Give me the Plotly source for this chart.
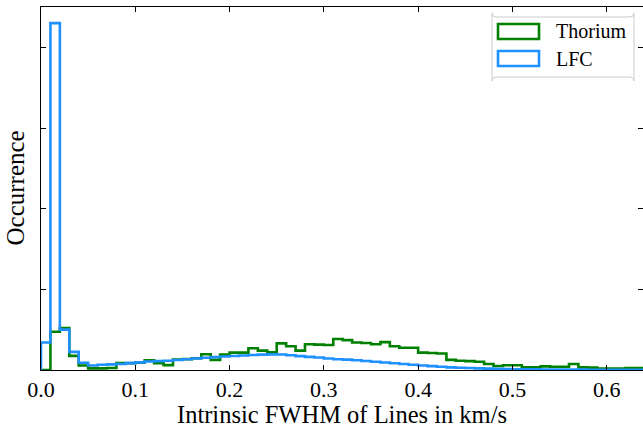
import plotly.graph_objects as go

# ---- data (histograms, bin width 0.01 starting at 0) ----
bin_width = 0.01
n_bins = 64
thorium = [0, 47.5, 52, 17.5, 5.5, 2, 2, 2.5, 8.5, 8.5,
           9, 12, 8.5, 6, 13, 13.5, 14.5, 19.5, 12.5, 19,
           21.5, 21.5, 27, 24, 22, 33, 29.5, 24, 32, 31.5,
           31, 38.5, 37, 34, 33.5, 32, 34.5, 29.5, 27.5, 27.5,
           21.5, 21, 20.5, 12.5, 11.5, 11, 10.3, 7.4, 5, 5.8,
           5.8, 3.3, 3.3, 4.5, 4, 4, 7.4, 3.3, 3, 1.7,
           1.7, 1.7, 2.5, 2.5]
lfc = [34, 430, 50, 22.5, 9, 5.5, 6.5, 7, 7.5, 8.5,
       9.5, 10.5, 11, 11.5, 12.4, 13.3, 14.3, 15.2, 16, 16.7,
       17.3, 17.9, 18.6, 19.1, 19.4, 19.2, 18.2, 17.2, 16.3, 15.5,
       14.2, 13.3, 12.8, 12, 11.2, 10.3, 9.3, 8.4, 7.5, 6.6,
       5.6, 4.8, 4, 3.3, 2.8, 2.4, 2, 1.7, 1.4, 1.2,
       1.0, 0.9, 0.8, 0.7, 0.6, 0.6, 0.5, 0.5, 0.4, 0.4,
       0.4, 0.3, 0.3, 0.3]
series_names = ["Thorium", "LFC"]
series_colors = ["green", "#1E90FF"]
x_ticks = [0.0, 0.1, 0.2, 0.3, 0.4, 0.5, 0.6]
y_ticks = [100, 200, 300, 400]

edges = [round(i * bin_width, 2) for i in range(n_bins + 1)]


def step_xy(vals):
    xs = [0.0] + edges
    ys = [0] + list(vals) + [0]
    return xs, ys


fig = go.Figure()
for name, vals, col in zip(series_names, [thorium, lfc], series_colors):
    xs, ys = step_xy(vals)
    fig.add_trace(go.Scatter(x=xs, y=ys, mode="lines", name=name,
                             line=dict(color=col, width=2.6, shape="hv"),
                             showlegend=False))

FONT = "Liberation Serif"
W, H = 643, 428
L, R, T, B = 41, 0, 7, 58
pw, ph = W - L - R, H - T - B


def px(xp):
    return (xp - L) / pw


def py(yp):
    return (H - B - yp) / ph


# custom legend (box, swatches, labels)
shapes = []
x0, x1, y0, y1 = px(492), px(634), py(17), py(77)
r = 4 / pw
ry = 4 / ph
path = (f"M {x0+r},{y1} L {x1-r},{y1} Q {x1},{y1} {x1},{y1-ry} "
        f"L {x1},{y0+ry} Q {x1},{y0} {x1-r},{y0} L {x0+r},{y0} "
        f"Q {x0},{y0} {x0},{y0+ry} L {x0},{y1-ry} Q {x0},{y1} {x0+r},{y1} Z")
shapes.append(dict(type="path", xref="paper", yref="paper", path=path,
                   line=dict(color="#cccccc", width=1),
                   fillcolor="rgba(255,255,255,0.8)"))
annotations = []
for i, (name, col) in enumerate(zip(series_names, series_colors)):
    cy = 31.5 + i * 27
    shapes.append(dict(type="rect", xref="paper", yref="paper",
                       x0=px(498), x1=px(539), y0=py(cy + 7.5), y1=py(cy - 7.5),
                       line=dict(color=col, width=2.6), fillcolor="white"))
    annotations.append(dict(xref="paper", yref="paper", x=px(554), y=py(cy),
                            text=name, showarrow=False, xanchor="left",
                            yanchor="middle",
                            font=dict(family=FONT, size=20, color="black")))

annotations.append(dict(xref="paper", yref="paper", x=px(15), y=0.5,
                        text="Occurrence", textangle=-90, showarrow=False,
                        xanchor="center", yanchor="middle",
                        font=dict(family=FONT, size=25, color="black")))

fig.update_layout(
    width=W, height=H,
    margin=dict(l=L, r=R, t=T, b=B),
    plot_bgcolor="white", paper_bgcolor="white",
    shapes=shapes, annotations=annotations,
    showlegend=False,
    font=dict(family=FONT, color="black"),
)
fig.update_xaxes(range=[0, 0.6385], tickvals=x_ticks, tickformat=".1f",
                 ticks="inside", ticklen=5, tickwidth=1, tickcolor="black",
                 showline=True, linecolor="black", linewidth=1, mirror="ticks",
                 showgrid=False, zeroline=False,
                 tickfont=dict(family=FONT, size=22, color="black"),
                 title=dict(text="Intrinsic FWHM of Lines in km/s",
                            font=dict(family=FONT, size=24.5, color="black"),
                            standoff=6))
fig.update_yaxes(range=[0, 450], tickvals=y_ticks, showticklabels=False,
                 ticks="inside", ticklen=5, tickwidth=1, tickcolor="black",
                 showline=True, linecolor="black", linewidth=1, mirror="ticks",
                 showgrid=False, zeroline=False)

fig.write_html("out.html")
